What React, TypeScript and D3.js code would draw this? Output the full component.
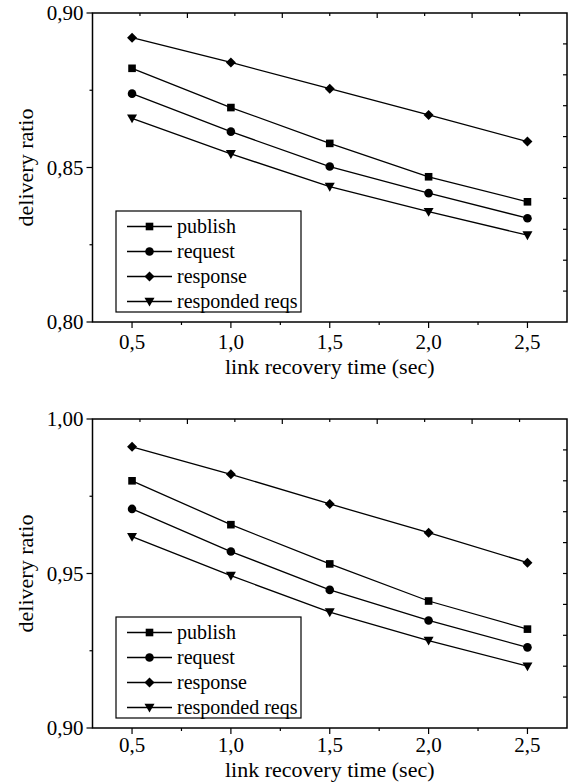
import * as d3 from "d3";

const recovery = [0.5, 1.0, 1.5, 2.0, 2.5];
const seriesNames = ["publish", "request", "response", "responded reqs"];

// upper panel
const publishA = [0.8821, 0.8694, 0.8578, 0.847, 0.8389];
const requestA = [0.8739, 0.8616, 0.8503, 0.8417, 0.8336];
const responseA = [0.892, 0.884, 0.8755, 0.867, 0.8584];
const respondedA = [0.8659, 0.8544, 0.8438, 0.8357, 0.8281];
const yTicksA = [0.8, 0.85, 0.9];

// lower panel
const publishB = [0.98, 0.9658, 0.9531, 0.9411, 0.932];
const requestB = [0.9709, 0.9571, 0.9447, 0.9348, 0.9261];
const responseB = [0.991, 0.9821, 0.9725, 0.9632, 0.9535];
const respondedB = [0.9619, 0.9493, 0.9375, 0.9283, 0.92];
const yTicksB = [0.9, 0.95, 1.0];

const xTicks = [0.5, 1.0, 1.5, 2.0, 2.5];
const xMinor = [0.75, 1.25, 1.75, 2.25];

const locale = d3.formatLocale({ decimal: ",", thousands: ".", grouping: [3], currency: ["", ""] });
const fmt1 = locale.format(".1f");
const fmt2 = locale.format(".2f");

const FONT = "Liberation Serif, Times New Roman, serif";
const W = 574;
const H = 783;
const left = 92.5;
const right = 567;

const panels = [
  { top: 13, bottom: 322, domain: [0.8, 0.9], yTicks: yTicksA, series: [publishA, requestA, responseA, respondedA], legendTop: 211, labelOff: 27, titleOff: 52 },
  { top: 419, bottom: 728, domain: [0.9, 1.0], yTicks: yTicksB, series: [publishB, requestB, responseB, respondedB], legendTop: 617, labelOff: 24, titleOff: 49 },
];

function Marker({ kind, x, y }: { kind: number; x: number; y: number }) {
  if (kind === 0) return <rect x={x - 3.8} y={y - 3.8} width={7.6} height={7.6} fill="#000" />;
  if (kind === 1) return <circle cx={x} cy={y} r={4.3} fill="#000" />;
  if (kind === 2) return <path d={`M${x},${y - 5} L${x + 5},${y} L${x},${y + 5} L${x - 5},${y} Z`} fill="#000" />;
  return <path d={`M${x - 5},${y - 3.8} L${x + 5},${y - 3.8} L${x},${y + 5} Z`} fill="#000" />;
}

function Panel({ p }: { p: (typeof panels)[number] }) {
  const x = d3.scaleLinear([0.3, 2.7], [left, right]);
  const y = d3.scaleLinear(p.domain, [p.bottom, p.top]);
  const line = d3
    .line<number>()
    .x((_, i) => x(recovery[i]))
    .y((d) => y(d));
  const [y0, y1] = p.domain;
  const yMinor = [y0 + (y1 - y0) / 4, y0 + (3 * (y1 - y0)) / 4];
  const rightTicks = d3.range(1, 10).map((i) => y0 + ((y1 - y0) * i) / 10);
  const topTicks = d3.range(1, 10).map((i) => 0.3 + (2.4 * i) / 10);
  const lg = p.legendTop;
  return (
    <g fontFamily={FONT} fontSize={21}>
      {/* frame */}
      <rect x={left} y={p.top} width={right - left} height={p.bottom - p.top} fill="none" stroke="#000" strokeWidth={1.5} />
      {/* bottom axis */}
      {xTicks.map((t) => (
        <g key={"xb" + t}>
          <line x1={x(t)} x2={x(t)} y1={p.bottom} y2={p.bottom + 6} stroke="#000" strokeWidth={1.2} />
          <text x={x(t)} y={p.bottom + p.labelOff} textAnchor="middle">
            {fmt1(t)}
          </text>
        </g>
      ))}
      {xMinor.map((t) => (
        <line key={"xm" + t} x1={x(t)} x2={x(t)} y1={p.bottom} y2={p.bottom + 3} stroke="#000" strokeWidth={1.2} />
      ))}
      {topTicks.map((t, i) => (
        <line key={"xt" + i} x1={x(t)} x2={x(t)} y1={p.top} y2={p.top + (i % 2 ? 5 : 3)} stroke="#000" strokeWidth={1.2} />
      ))}
      {/* left axis */}
      {p.yTicks.map((t) => (
        <g key={"yl" + t}>
          <line x1={left - 6} x2={left} y1={y(t)} y2={y(t)} stroke="#000" strokeWidth={1.2} />
          <text x={left - 9} y={y(t) + 7} textAnchor="end">
            {fmt2(t)}
          </text>
        </g>
      ))}
      {yMinor.map((t) => (
        <line key={"ym" + t} x1={left - 3} x2={left} y1={y(t)} y2={y(t)} stroke="#000" strokeWidth={1.2} />
      ))}
      {rightTicks.map((t, i) => (
        <line key={"yr" + i} x1={right - 4} x2={right} y1={y(t)} y2={y(t)} stroke="#000" strokeWidth={1.2} />
      ))}
      {/* titles */}
      <text x={(left + right) / 2} y={p.bottom + p.titleOff} textAnchor="middle" fontSize={22}>
        link recovery time (sec)
      </text>
      <text transform={`translate(33,${(p.top + p.bottom) / 2}) rotate(-90)`} textAnchor="middle" fontSize={22}>
        delivery ratio
      </text>
      {/* series */}
      {p.series.map((s, k) => (
        <g key={"s" + k}>
          <path d={line(s) ?? ""} fill="none" stroke="#000" strokeWidth={1.3} />
          {s.map((v, i) => (
            <Marker key={i} kind={k} x={x(recovery[i])} y={y(v)} />
          ))}
        </g>
      ))}
      {/* legend */}
      <rect x={116} y={lg} width={185} height={101} fill="#fff" stroke="#000" strokeWidth={1.2} />
      {seriesNames.map((n, k) => {
        const cy = lg + 15.5 + k * 25;
        return (
          <g key={"l" + k}>
            <line x1={127} x2={172} y1={cy} y2={cy} stroke="#000" strokeWidth={1.3} />
            <Marker kind={k} x={149.5} y={cy} />
            <text x={177} y={cy + 6} fontSize={20}>
              {n}
            </text>
          </g>
        );
      })}
    </g>
  );
}

export default function App() {
  return (
    <svg width={W} height={H} style={{ position: "absolute", left: 0, top: 0, background: "#fff" }}>
      {panels.map((p, i) => (
        <Panel key={i} p={p} />
      ))}
    </svg>
  );
}
